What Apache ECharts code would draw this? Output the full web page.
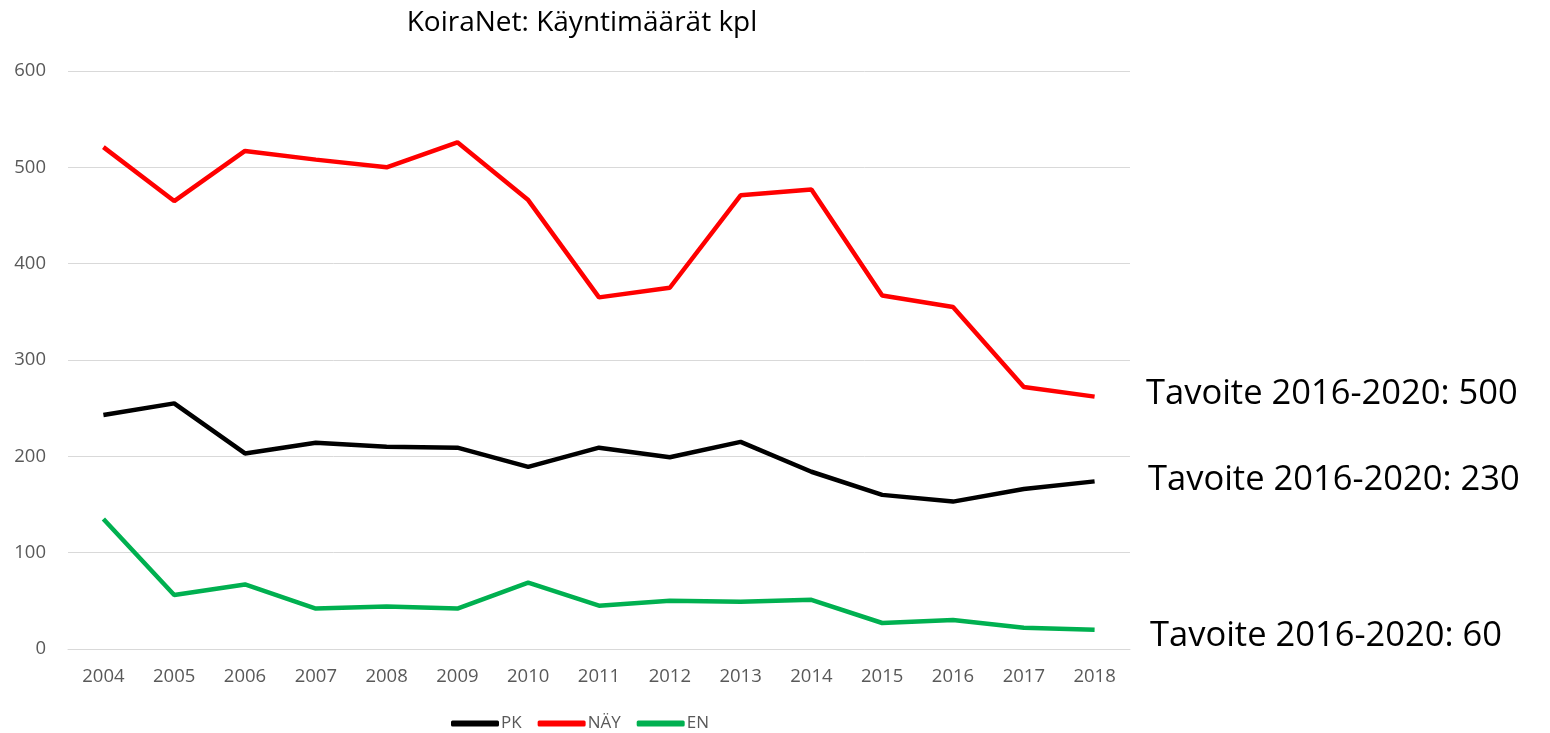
<!DOCTYPE html>
<html>
<head>
<meta charset="utf-8">
<script src="https://cdn.jsdelivr.net/npm/echarts@6/dist/echarts.min.js"></script>
<style>
html,body{margin:0;padding:0;background:#fff;}
#chart{width:1550px;height:733px;}
</style>
</head>
<body>
<div id="chart"></div>
<script>
const years = ['2004','2005','2006','2007','2008','2009','2010','2011','2012','2013','2014','2015','2016','2017','2018'];
const pk  = [243,255,203,214,210,209,189,209,199,215,184,160,153,166,174];
const nay = [521,465,517,508,500,526,466,365,375,471,477,367,355,272,262];
const en  = [135,56,67,42,44,42,69,45,50,49,51,27,30,22,20];
const yTicks = {min:0, max:600, interval:100};
const targets = ['Tavoite 2016-2020: 500','Tavoite 2016-2020: 230','Tavoite 2016-2020: 60'];

const font = '"Open Sans", "Liberation Sans", sans-serif';
const chart = echarts.init(document.getElementById('chart'));
chart.setOption({
  animation:false,
  backgroundColor:'#fff',
  title:{text:'KoiraNet: Käyntimäärät kpl', left:577, top:4, textAlign:'center',
    textStyle:{fontFamily:font, fontSize:28, fontWeight:'normal', color:'#000'}},
  grid:{left:68, right:420, top:71, bottom:84, containLabel:false},
  legend:{top:710, left:446, itemWidth:48, itemHeight:6, itemGap:16, icon:'roundRect',
    textStyle:{fontFamily:font, fontSize:17, color:'#595959', padding:[0,0,0,-3]},
    data:['PK','NÄY','EN']},
  xAxis:{type:'category', data:years, boundaryGap:true,
    axisLine:{show:true, lineStyle:{color:'#d9d9d9', width:1}},
    axisTick:{show:false},
    axisLabel:{fontFamily:font, fontSize:18.5, color:'#595959', margin:18}},
  yAxis:{type:'value', min:yTicks.min, max:yTicks.max, interval:yTicks.interval,
    axisLine:{show:false}, axisTick:{show:false},
    splitLine:{lineStyle:{color:'#d9d9d9', width:1}},
    axisLabel:{fontFamily:font, fontSize:18.5, color:'#595959', margin:22}},
  series:[
    {name:'PK', type:'line', data:pk, showSymbol:false, lineStyle:{color:'#000', width:4.5}, itemStyle:{color:'#000'}},
    {name:'NÄY', type:'line', data:nay, showSymbol:false, lineStyle:{color:'#ff0000', width:4.5}, itemStyle:{color:'#ff0000'}},
    {name:'EN', type:'line', data:en, showSymbol:false, lineStyle:{color:'#00b050', width:4.5}, itemStyle:{color:'#00b050'}}
  ],
  graphic:[
    {type:'text', left:1146, top:377, style:{text:targets[0], font:'34.5px '+font, fill:'#000'}},
    {type:'text', left:1148, top:463, style:{text:targets[1], font:'34.5px '+font, fill:'#000'}},
    {type:'text', left:1150, top:619, style:{text:targets[2], font:'34.5px '+font, fill:'#000'}}
  ]
});
</script>
</body>
</html>
